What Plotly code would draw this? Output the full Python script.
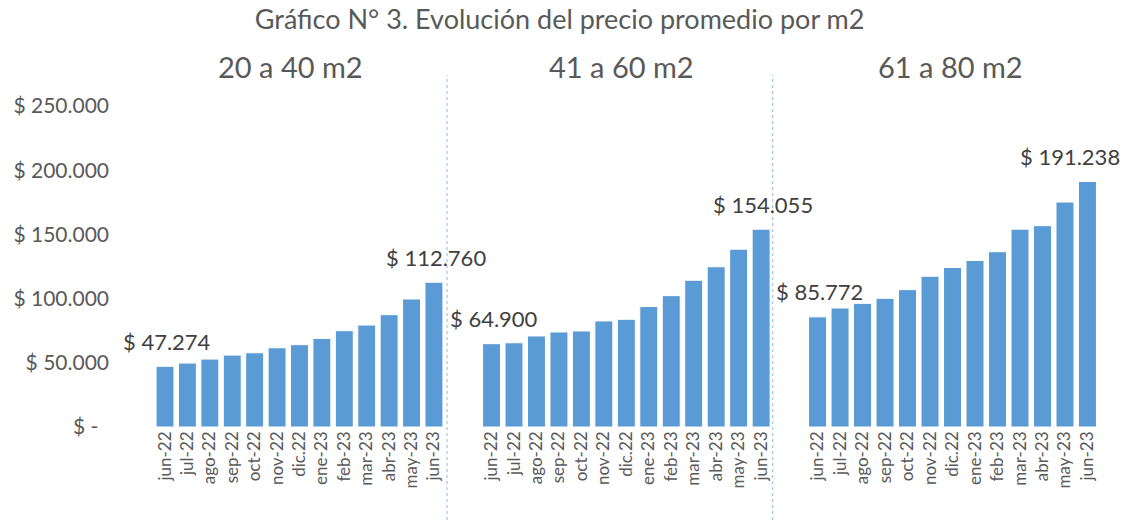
import plotly.graph_objects as go

months = ["jun-22", "jul-22", "ago-22", "sep-22", "oct-22", "nov-22", "dic.22",
          "ene-23", "feb-23", "mar-23", "abr-23", "may-23", "jun-23"]
groups = ["20 a 40 m2", "41 a 60 m2", "61 a 80 m2"]
g1 = [47274, 49800, 52900, 56000, 57800, 61700, 64100, 69000, 75000, 79400, 87500, 99700, 112760]
g2 = [64900, 65600, 70900, 74000, 74800, 82600, 83900, 93800, 102300, 114300, 124800, 138500, 154055]
g3 = [85772, 92700, 96300, 100200, 107000, 117400, 124200, 129700, 136500, 154100, 156800, 175200, 191238]
series = [g1, g2, g3]
ytick_vals = [0, 50000, 100000, 150000, 200000, 250000]
ytick_text = ["$ -\u00a0\u00a0", "$ 50.000", "$ 100.000", "$ 150.000", "$ 200.000", "$ 250.000"]
title = "Gráfico N° 3. Evolución del precio promedio por m2"

FONT = "Lato"
BLUE = "#5B9BD5"
GRAY = "#595959"
DARK = "#404040"


def fmt(v):
    return "$ " + f"{v:,.0f}".replace(",", ".")


fig = go.Figure()
axes = ["x", "x2", "x3"]
for vals, ax in zip(series, axes):
    fig.add_trace(go.Bar(x=months, y=vals, xaxis=ax, yaxis="y",
                         marker=dict(color=BLUE, line=dict(color="white", width=1)),
                         hoverinfo="x+y", showlegend=False))

xcommon = dict(type="category", showgrid=False, zeroline=False, showline=False,
               ticks="", tickangle=-90, tickfont=dict(family=FONT, size=17, color=GRAY),
               fixedrange=True)
fig.update_layout(
    width=1126, height=520,
    margin=dict(l=110, r=20, t=106, b=93),
    paper_bgcolor="white", plot_bgcolor="white",
    bargap=0.2,
    font=dict(family=FONT, color=GRAY),
    title=dict(text=title, x=0.497, xref="container", xanchor="center",
               y=1 - 20 / 520, yref="container", yanchor="middle",
               font=dict(family=FONT, size=27, color=GRAY)),
    xaxis=dict(domain=[0, 0.3365], range=[-2.455, 12.5], anchor="y", **xcommon),
    xaxis2=dict(domain=[0.3718, 0.6650], range=[-0.5, 12.5], anchor="y", **xcommon),
    xaxis3=dict(domain=[0.6991, 0.9927], range=[-0.5, 12.5], anchor="y", **xcommon),
    yaxis=dict(range=[0, 250000], tickvals=ytick_vals, ticktext=ytick_text,
               showgrid=False, zeroline=False, showline=False, ticks="",
               tickfont=dict(family=FONT, size=21, color=GRAY), fixedrange=True),
)

# group labels
gshift = [-9, -5, -2]
for name, ax, xs in zip(groups, axes, gshift):
    fig.add_annotation(text=name, xref=ax, yref="paper", x=months[6], y=1.1246,
                       xshift=xs, showarrow=False, xanchor="center", yanchor="middle",
                       font=dict(family=FONT, size=29, color=GRAY))

# data labels on first and last bars
for vals, ax in zip(series, axes):
    for idx in (0, len(vals) - 1):
        shift = 2
        if ax == "x3" and idx == len(vals) - 1:
            shift = -17
        fig.add_annotation(text=fmt(vals[idx]), xref=ax, yref="y", x=months[idx], y=vals[idx],
                           yshift=25, xshift=shift, showarrow=False, xanchor="center",
                           yanchor="middle", font=dict(family=FONT, size=22, color=DARK))

# dotted separators between groups
for xv in (0.3384, 0.6654):
    fig.add_shape(type="line", xref="paper", yref="paper", x0=xv, x1=xv, y0=-0.29, y1=1.0966,
                  line=dict(color="#8DB8E2", width=1, dash="dot"))

fig.write_html("out.html", config={"displayModeBar": False},
               post_script="document.body.style.margin='0';document.body.style.padding='0';")
